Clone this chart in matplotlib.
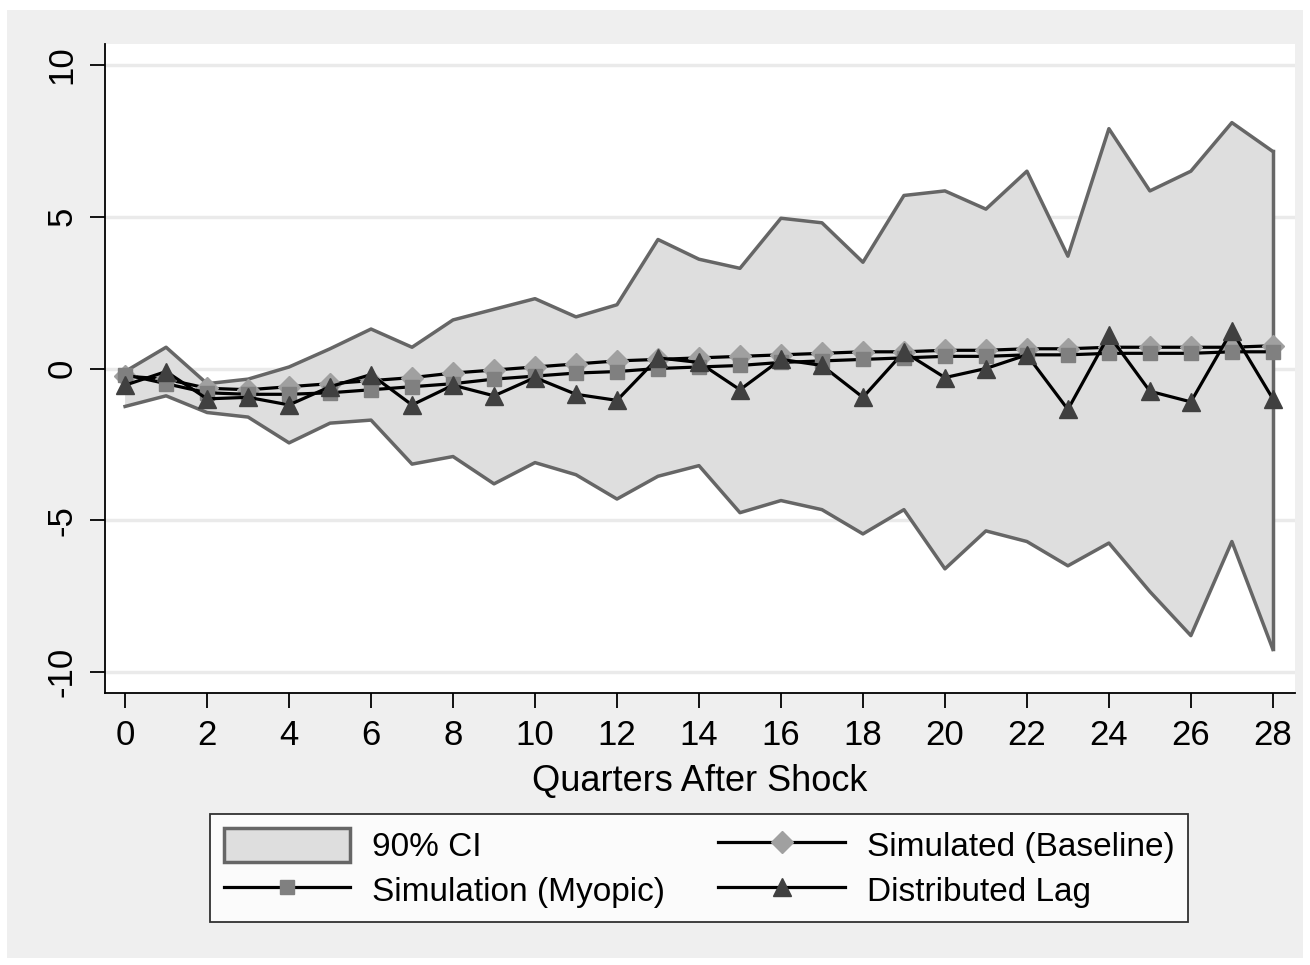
import matplotlib.pyplot as plt
from matplotlib.patches import Rectangle

plt.rcParams['font.family'] = ['Liberation Sans', 'DejaVu Sans']

quarters = list(range(29))

ci_upper = [-0.1, 0.7, -0.5, -0.35, 0.05, 0.65, 1.3, 0.7, 1.6, 1.95,
            2.3, 1.7, 2.1, 4.25, 3.6, 3.3, 4.95, 4.8, 3.5, 5.7,
            5.85, 5.25, 6.5, 3.7, 7.9, 5.85, 6.5, 8.1, 7.15]
ci_lower = [-1.25, -0.9, -1.45, -1.6, -2.45, -1.8, -1.7, -3.15, -2.9, -3.8,
            -3.1, -3.5, -4.3, -3.55, -3.2, -4.75, -4.35, -4.65, -5.45, -4.65,
            -6.6, -5.35, -5.7, -6.5, -5.75, -7.35, -8.8, -5.7, -9.25]
baseline = [-0.25, -0.35, -0.65, -0.7, -0.6, -0.5, -0.4, -0.3, -0.15, -0.05,
            0.05, 0.15, 0.25, 0.3, 0.35, 0.4, 0.45, 0.5, 0.55, 0.55,
            0.6, 0.6, 0.65, 0.65, 0.7, 0.7, 0.7, 0.7, 0.75]
myopic = [-0.2, -0.5, -0.8, -0.85, -0.85, -0.8, -0.7, -0.6, -0.5, -0.35,
          -0.25, -0.15, -0.1, 0.0, 0.05, 0.1, 0.2, 0.25, 0.3, 0.35,
          0.4, 0.4, 0.45, 0.45, 0.5, 0.5, 0.5, 0.55, 0.55]
dist_lag = [-0.55, -0.1, -1.0, -0.95, -1.2, -0.6, -0.2, -1.2, -0.55, -0.9,
            -0.3, -0.85, -1.05, 0.35, 0.2, -0.7, 0.3, 0.1, -0.95, 0.55,
            -0.3, 0.0, 0.45, -1.35, 1.1, -0.75, -1.1, 1.25, -1.0]

W, H = 1310, 965
fig = plt.figure(figsize=(W / 100, H / 100), dpi=100, facecolor='white')
fig.patches.append(Rectangle((7 / W, 7 / H), 1296 / W, 948 / H,
                             transform=fig.transFigure, facecolor='#efefef',
                             edgecolor='none', zorder=-10))

ax = fig.add_axes([105 / W, 1 - 693 / H, 1190 / W, 649 / H])
ax.set_facecolor('white')

ax.fill_between(quarters, ci_lower, ci_upper, facecolor='#dedede',
                edgecolor='none', zorder=1)
ax.plot(quarters, ci_upper, color='#666666', lw=2.5, zorder=2)
ax.plot(quarters, ci_lower, color='#666666', lw=2.5, zorder=2)
ax.plot([quarters[-1], quarters[-1]], [ci_lower[-1], ci_upper[-1]],
        color='#666666', lw=2.5, zorder=2)

ax.plot(quarters, baseline, color='black', lw=2.3, marker='D', ms=11,
        mfc='#a0a0a0', mec='#a0a0a0', zorder=3)
ax.plot(quarters, myopic, color='black', lw=2.3, marker='s', ms=10,
        mfc='#808080', mec='#808080', zorder=4)
ax.plot(quarters, dist_lag, color='black', lw=2.3, marker='^', ms=13,
        mfc='#404040', mec='#404040', zorder=5)

ax.set_xlim(-0.49, 28.54)
ax.set_ylim(-10.69, 10.69)
ax.set_xticks(range(0, 29, 2))
ax.set_yticks([-10, -5, 0, 5, 10])
ax.set_yticklabels(['-10', '-5', '0', '5', '10'], rotation=90, va='center')
ax.grid(axis='y', color='#eaeaea', lw=2.5, zorder=0)
ax.set_axisbelow(True)
for s in ['top', 'right']:
    ax.spines[s].set_visible(False)
for s in ['left', 'bottom']:
    ax.spines[s].set_linewidth(1.3)
ax.tick_params(length=11, width=1.3, labelsize=25, pad=8)
ax.set_xlabel('Quarters After Shock', fontsize=26, labelpad=8)

h_ci = Rectangle((0, 0), 1, 1, facecolor='#dedede', edgecolor='#666666', lw=2.5)
h_base = plt.Line2D([], [], color='black', lw=2.3, marker='D', ms=11,
                    mfc='#a0a0a0', mec='#a0a0a0')
h_my = plt.Line2D([], [], color='black', lw=2.3, marker='s', ms=10,
                  mfc='#808080', mec='#808080')
h_dl = plt.Line2D([], [], color='black', lw=2.3, marker='^', ms=13,
                  mfc='#404040', mec='#404040')
leg = fig.legend([h_ci, h_my, h_base, h_dl],
                 ['90% CI', 'Simulation (Myopic)', 'Simulated (Baseline)', 'Distributed Lag'],
                 ncol=2, loc='center', bbox_to_anchor=(699 / W, 1 - 868 / H),
                 fontsize=24, frameon=True, fancybox=False, handlelength=3.8,
                 handleheight=1.2, columnspacing=1.6, labelspacing=0.3,
                 borderpad=0.4, handletextpad=0.65)
leg.get_frame().set_edgecolor('black')
leg.get_frame().set_linewidth(1.3)

fig.savefig('out.png', dpi=100, facecolor=fig.get_facecolor())
